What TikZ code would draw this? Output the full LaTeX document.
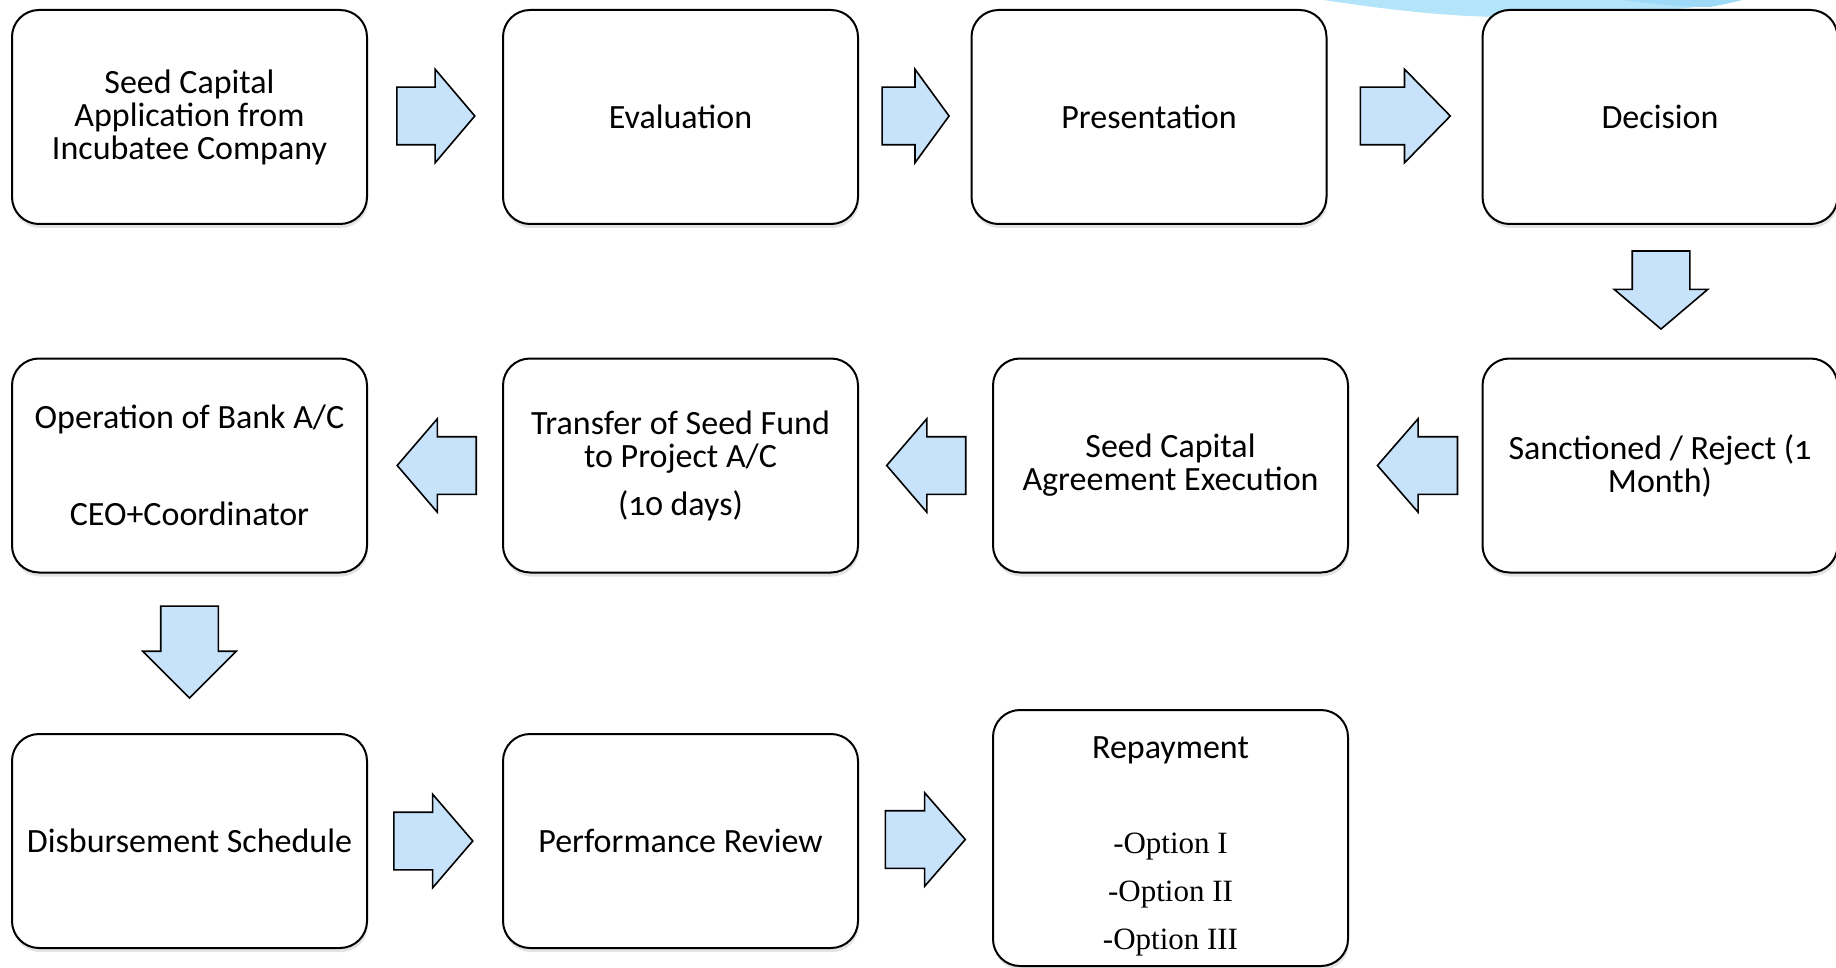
\documentclass[tikz,border=0pt]{standalone}
\usepackage{fontspec}
\setmainfont{Carlito}[Numbers=OldStyle]
\newfontfamily\optfont{Liberation Serif}
\usetikzlibrary{shapes.arrows,shadows,calc}
\definecolor{arrowblue}{RGB}{198,227,251}
\definecolor{swooshblue}{RGB}{180,228,250}
\definecolor{swooshdark}{RGB}{158,218,248}
\begin{document}
\begin{tikzpicture}[x=1pt,y=-1pt,
  stepbox/.style={draw=black, line width=2pt, fill=white, rounded corners=27pt,
    minimum width=355pt, minimum height=214pt, align=center, inner sep=0pt,
    font=\fontsize{34}{33}\selectfont,
    drop shadow={shadow xshift=1pt, shadow yshift=-4pt, opacity=0.22}},
  blockarrow/.style={single arrow, draw=black, line width=1.6pt, fill=arrowblue,
    inner xsep=0pt, inner ysep=28pt, single arrow head extend=18pt, anchor=tail,
    minimum height=#1, single arrow tip angle={2*atan(46/(#1/2))}}
]
\useasboundingbox (0,0) rectangle (1836,968);
% decorative swoosh at top
\fill[swooshblue] (1323,0) .. controls (1390,10) and (1450,17) .. (1510,17)
  .. controls (1600,17) and (1690,10) .. (1742,0) -- cycle;
\fill[swooshdark] (1622,0) .. controls (1660,5) and (1690,7) .. (1710,7)
  .. controls (1722,5) and (1734,2) .. (1742,0) -- cycle;

% row 1
\node[stepbox] (app)  at (189.5,117) {Seed Capital\\Application from\\Incubatee Company};
\node[stepbox] (eval) at (680.5,117) {Evaluation};
\node[stepbox] (pres) at (1149,117) {Presentation};
\node[stepbox] (dec)  at (1660,117) {Decision};
% row 2
\node[stepbox] (sanc) at (1660,465.5) {Sanctioned / Reject (1\\Month)};
\node[stepbox] (agr)  at (1170.5,465.5) {Seed Capital\\Agreement Execution};
\node[stepbox] (trans) at (680.5,465.5) {Transfer of Seed Fund\\to Project A/C\\[15pt](10 days)};
\node[stepbox] (oper) at (189.5,465.5) {Operation of Bank A/C\\[64pt]CEO+Coordinator};
% row 3
\node[stepbox] (disb) at (189.5,841) {Disbursement Schedule};
\node[stepbox] (perf) at (680.5,841) {Performance Review};
\node[stepbox, minimum height=256pt] (repay) at (1170.5,838)
  {\rule{0pt}{38pt}Repayment\\[62pt]{\optfont\fontsize{31}{46}\selectfont -Option I}\\[15pt]{\optfont\fontsize{31}{46}\selectfont -Option II}\\[15pt]{\optfont\fontsize{31}{46}\selectfont -Option III}};

% block arrows (placed by their tail, centred in the gap between boxes)
\node[blockarrow=78pt] (a1) at ($(app.east)!0.5!(eval.west)+(-39,-1)$) {};
\node[blockarrow=67pt] (a2) at ($(eval.east)!0.5!(pres.west)+(-33.5,-1)$) {};
\node[blockarrow=90pt] (a3) at ($(pres.east)!0.5!(dec.west)+(-45,-1)$) {};
\node[blockarrow=78pt, rotate=-90] (d1) at ($(dec.south)!0.5!(sanc.north)+(1,-41)$) {};
\node[blockarrow=80pt, rotate=180] (b1) at ($(sanc.west)!0.5!(agr.east)+(43,0)$) {};
\node[blockarrow=79pt, rotate=180] (b2) at ($(agr.west)!0.5!(trans.east)+(41,0)$) {};
\node[blockarrow=79pt, rotate=180] (b3) at ($(trans.west)!0.5!(oper.east)+(42,0)$) {};
\node[blockarrow=92pt, rotate=-90] (d2) at ($(oper.south)!0.5!(disb.north)+(0,-48)$) {};
\node[blockarrow=79pt] (c1) at ($(disb.east)!0.5!(perf.west)+(-42,0)$) {};
\node[blockarrow=80pt] (c2) at ($(perf.east)!0.5!(repay.west)+(-41,0)$) {};
\end{tikzpicture}
\end{document}
